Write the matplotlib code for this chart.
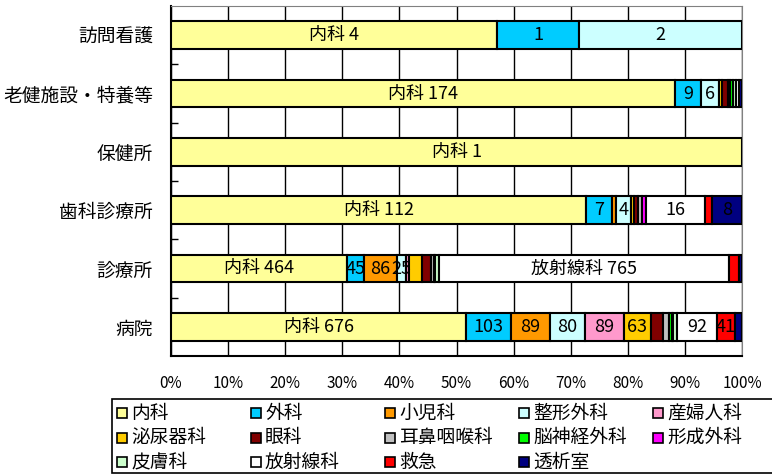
import matplotlib
matplotlib.use("Agg")
import matplotlib.pyplot as plt
from matplotlib.patches import Rectangle
from matplotlib.ticker import FixedLocator, FuncFormatter
import numpy as np

plt.rcParams['font.family'] = ['Noto Sans CJK JP', 'DejaVu Sans']

# categories, top to bottom
categories = ['訪問看護', '老健施設・特養等', '保健所', '歯科診療所', '診療所', '病院']

# counts per department, same order as categories
naika = [4, 174, 1, 112, 464, 676]
geka = [1, 9, 0, 7, 45, 103]
shonika = [0, 0, 0, 1, 86, 89]
seikei = [2, 6, 0, 4, 25, 80]
sanfujin = [0, 0, 0, 0, 8, 89]
hinyoki = [0, 1, 0, 1, 33, 63]
ganka = [0, 2, 0, 1, 23, 27]
jibi = [0, 1, 0, 1, 8, 13]
noshinkei = [0, 1, 0, 0, 3, 7]
keisei = [0, 0, 0, 1, 1, 4]
hifu = [0, 1, 0, 0, 10, 8]
hoshasen = [0, 1, 0, 16, 765, 92]
kyukyu = [0, 0, 0, 2, 27, 41]
toseki = [0, 1, 0, 8, 7, 16]

departments = ['内科', '外科', '小児科', '整形外科', '産婦人科', '泌尿器科', '眼科',
               '耳鼻咽喉科', '脳神経外科', '形成外科', '皮膚科', '放射線科', '救急', '透析室']
series = [naika, geka, shonika, seikei, sanfujin, hinyoki, ganka,
          jibi, noshinkei, keisei, hifu, hoshasen, kyukyu, toseki]
colors = ['#FFFF99', '#00CCFF', '#FF9900', '#CCFFFF', '#FF99CC', '#FFCC00', '#800000',
          '#C0C0C0', '#00FF00', '#FF00FF', '#CCFFCC', '#FFFFFF', '#FF0000', '#000080']

# which segments carry a value label (per category)
labeled = [
    ['内科', '外科', '整形外科'],
    ['内科', '外科', '整形外科'],
    ['内科'],
    ['内科', '外科', '整形外科', '放射線科', '透析室'],
    ['内科', '外科', '小児科', '整形外科', '放射線科'],
    ['内科', '外科', '小児科', '整形外科', '産婦人科', '泌尿器科', '放射線科', '救急'],
]
# labels that also show the department name
named = [['内科'], ['内科'], ['内科'], ['内科'], ['内科', '放射線科'], ['内科']]

vals = np.array(series, dtype=float)
totals = vals.sum(axis=0)
pct = vals / totals * 100
y = np.arange(len(categories))

fig = plt.figure(figsize=(7.72, 4.74), dpi=100)
ax = fig.add_axes([171/772, 1-356/474, 571/772, 350/474])

left = np.zeros(len(categories))
for i, dept in enumerate(departments):
    lw = [1.5 if v > 0 else 0 for v in vals[i]]
    ax.barh(y, pct[i], left=left, height=0.47, color=colors[i],
            edgecolor='black', linewidth=lw, zorder=3)
    for j in range(len(categories)):
        if dept in labeled[j] and vals[i][j] > 0:
            n = int(vals[i][j])
            txt = f"{dept} {n}" if dept in named[j] else f"{n}"
            ax.text(left[j] + pct[i][j]/2, y[j], txt, ha='center', va='center',
                    fontsize=13, zorder=4)
    left += pct[i]

ax.set_xlim(0, 100)
ax.set_ylim(len(categories)-0.5, -0.5)
ax.set_xticks(np.arange(0, 101, 10))
ax.xaxis.set_major_formatter(FuncFormatter(lambda v, p: f"{int(v)}%"))
ax.tick_params(axis='x', length=0, pad=14, labelsize=11)
ax.set_yticks(y)
ax.set_yticklabels(categories, fontsize=13.5)
ax.tick_params(axis='y', length=0, pad=13)
ax.yaxis.set_minor_locator(FixedLocator(np.arange(0.5, len(categories)-0.5, 1)))
ax.tick_params(axis='y', which='minor', direction='in', length=5, width=1, color='black')
ax.grid(axis='x', color='black', linewidth=1)
ax.set_axisbelow(True)
ax.spines['left'].set_linewidth(1.5)
ax.spines['bottom'].set_linewidth(1.5)
ax.spines['top'].set_color('#808080')
ax.spines['right'].set_color('#808080')

# legend: 5 equal columns filled row by row, as in the original
W, H = 772, 474
fig.add_artist(Rectangle((112/W, 1 - 473/H), 700/W, 74/H, transform=fig.transFigure,
                         facecolor='white', edgecolor='black', linewidth=1.2))
for k, dept in enumerate(departments):
    r, c = divmod(k, 5)
    cx = 122 + 134 * c
    cy = 413 + 24.5 * r
    fig.add_artist(Rectangle(((cx - 5)/W, 1 - (cy + 5)/H), 10/W, 10/H,
                             transform=fig.transFigure, facecolor=colors[k],
                             edgecolor='black', linewidth=1.2))
    fig.text((cx + 9)/W, 1 - cy/H, dept, ha='left', va='center', fontsize=13.5)

plt.savefig("out.png")
plt.close()
